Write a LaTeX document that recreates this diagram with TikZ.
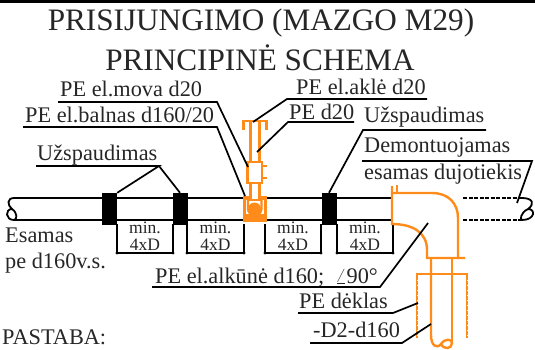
\documentclass[tikz,border=0pt]{standalone}
\usepackage{xcolor}
\usepackage{fontspec}
\setmainfont{Liberation Serif}
\definecolor{pipeorange}{HTML}{FF8C1A}
\tikzset{
  lbl/.style={anchor=base west, inner sep=0pt, font=\fontsize{22.3}{22.3}\selectfont, text=black!85},
  titlelbl/.style={anchor=base, inner sep=0pt, font=\fontsize{31.2}{31.2}\selectfont, text=black!85},
  dimlbl/.style={anchor=base, inner sep=0pt, font=\fontsize{17.5}{17.5}\selectfont, text=black!85},
  clampbox/.style={fill=black, inner sep=0pt, minimum width=15pt, minimum height=32pt},
  leader/.style={line width=1.7pt},
  pipeline/.style={line width=1.8pt},
  orangeline/.style={draw=pipeorange, line width=2.4pt},
}
\begin{document}
\begin{tikzpicture}[x=1pt, y=-1pt]
  \useasboundingbox (0,0) rectangle (535,350);
  \fill[black] (0,0) rectangle (535,3);

  \node[titlelbl] (title1) at (261,31) {PRISIJUNGIMO (MAZGO M29)};
  \node[titlelbl] (title2) at (260,71) {PRINCIPINĖ SCHEMA};

  % labels
  \node[lbl] (mova) at (60,97) {PE el.mova d20};
  \node[lbl] (balnas) at (25,122) {PE el.balnas d160/20};
  \node[lbl] (clampL) at (37,160) {Užspaudimas};
  \node[lbl] (akle) at (296,95) {PE el.aklė d20};
  \node[lbl] (dtwenty) at (289,120) {PE d20};
  \node[lbl] (clampR) at (364,123) {Užspaudimas};
  \node[lbl] (demont) at (364,153) {Demontuojamas};
  \node[lbl] (dujot) at (364,179) {esamas dujotiekis};
  \node[lbl] (esamas) at (5,242) {Esamas};
  \node[lbl] (pe) at (5,268) {pe d160v.s.};
  \node[lbl] (pastaba) at (2,344) {PASTABA:};
  \node[lbl] (alkune) at (155,283) {PE el.alkūnė d160;\ \ $\angle$90°};
  \node[lbl] (deklas) at (299,308) {PE dėklas};
  \node[lbl] (dtwo) at (313,337) {-D2-d160};

  % pipe
  \foreach \x/\n in {109.5/a,180/b,329/c} {
    \node[clampbox] (clamp\n) at (\x,209) {};
  }
  \coordinate (endL) at (14,198);
  \coordinate (endLb) at (14,220);
  \coordinate (elbowT) at (392,198);
  \coordinate (elbowB) at (392,220);
  \draw[pipeline] (elbowT) -- (endL) .. controls (7,198) and (7,205) .. (12,209)
    .. controls (18,213) and (17,220) .. (endLb) .. controls (5,220) and (5,209) .. (12,209);
  \draw[pipeline] (endLb) -- (elbowB);
  \coordinate (dashT) at (463,198);
  \coordinate (dashB) at (463,220);
  \coordinate (endR) at (522,198);
  \coordinate (endRb) at (522,220);
  \draw[pipeline, line width=1.3pt, dash pattern=on 4pt off 1.5pt] (dashT) -- (endR);
  \draw[pipeline, line width=1.3pt, dash pattern=on 4pt off 1.5pt] (dashB) -- (endRb);
  \draw[pipeline] (endR) .. controls (533,198) and (535,204) .. (528,209)
    .. controls (520,213) and (520,220) .. (endRb) .. controls (535,220) and (536,209) .. (528,209);

  % dimensions
  \foreach \a/\b [count=\n] in {117/173,187/244,265/321,337/393} {
    \coordinate (dimA\n) at (\a,253);
    \coordinate (dimB\n) at (\b,253);
    \draw[leader] (\a,224) -- (dimA\n) -- (dimB\n) -- (\b,224);
    \fill (dimA\n) circle (1.6pt) (dimB\n) circle (1.6pt);
    \node[dimlbl] (min\n) at ({(\a+\b)/2},233) {min.};
    \node[dimlbl] (xd\n) at ({(\a+\b)/2},250) {4xD};
  }

  % saddle and stem
  \draw[orangeline, line width=3.2pt, fill=white] (244.5,198) rectangle (265.5,220);
  \fill[pipeorange] (244.5,214) rectangle (265.5,220);
  \fill[white] (248,200) -- (248,208) .. controls (248,218) and (261.5,218) .. (261.5,208) -- (261.5,200) -- cycle;
  \fill[pipeorange] (254.5,209) circle (6.5pt);
  \draw[orangeline] (248,200) -- (248,208) .. controls (248,218) and (261.5,218) .. (261.5,208) -- (261.5,200);
  \draw[orangeline, fill=white] (250.5,183) rectangle (259.5,200);
  \draw[orangeline, fill=white] (247.5,162) rectangle (262,183);
  \draw[orangeline] (262,166) -- (267,166) (262,178) -- (267,178);
  \draw[orangeline] (250.5,162) -- (250.5,121) (259.5,162) -- (259.5,121);
  \draw[orangeline] (243.5,130) -- (243.5,121) -- (266.5,121) -- (266.5,130);

  % elbow and sleeve
  \draw[orangeline] (392,186) -- (392,224) .. controls (412,224) and (427,232) .. (427,250) -- (427,258) -- (465,258);
  \draw[orangeline] (392,193) -- (432,193) .. controls (448,193) and (458,203) .. (458,218) -- (458,258);
  \draw[orangeline] (397,185) -- (397,193);
  \draw[orangeline] (431,258) -- (431,335) .. controls (431,346) and (437,349) .. (441,344)
    .. controls (445,338) and (452,339) .. (452,343) .. controls (452,349) and (444,350) .. (441,344);
  \draw[orangeline] (452,258) -- (452,343);
  \draw[orangeline] (417,338) -- (417,274) -- (467,274) -- (467,338);
  \draw[white, line width=0.8pt, dash pattern=on 1pt off 4pt] (417,280) -- (417,338) (467,280) -- (467,338);

  % leaders
  \coordinate (movaA) at (58,102); \coordinate (movaB) at (217,102); \coordinate (movaT) at (248,167);
  \coordinate (balnasA) at (23,127); \coordinate (balnasB) at (217,127); \coordinate (balnasT) at (245,196);
  \coordinate (clampLA) at (36,166); \coordinate (clampLB) at (159,166);
  \coordinate (akleA) at (427,99); \coordinate (akleB) at (287,99); \coordinate (akleT) at (253,122);
  \coordinate (dtwentyA) at (354,122); \coordinate (dtwentyB) at (288,122); \coordinate (dtwentyT) at (257,152);
  \coordinate (clampRA) at (486,130); \coordinate (clampRB) at (363,130);
  \coordinate (demontA) at (362,161); \coordinate (demontB) at (532,161); \coordinate (demontT) at (517,203);
  \coordinate (alkuneA) at (152,287); \coordinate (alkuneB) at (380,287); \coordinate (alkuneT) at (428,223);
  \coordinate (deklasA) at (298,313); \coordinate (deklasB) at (393,313); \coordinate (deklasT) at (418,303);
  \coordinate (dtwoA) at (310,343); \coordinate (dtwoB) at (402,343); \coordinate (dtwoT) at (431,324);
  \foreach \n in {mova,balnas,akle,dtwenty,demont,alkune,deklas,dtwo} {
    \draw[leader] (\n A) -- (\n B) -- (\n T);
  }
  \draw[leader] (clampLA) -- (clampLB) -- (clampa.north east);
  \draw[leader] (clampLB) -- (clampb.north);
  \draw[leader] (clampRA) -- (clampRB) -- (clampc.north);
\end{tikzpicture}
\end{document}
